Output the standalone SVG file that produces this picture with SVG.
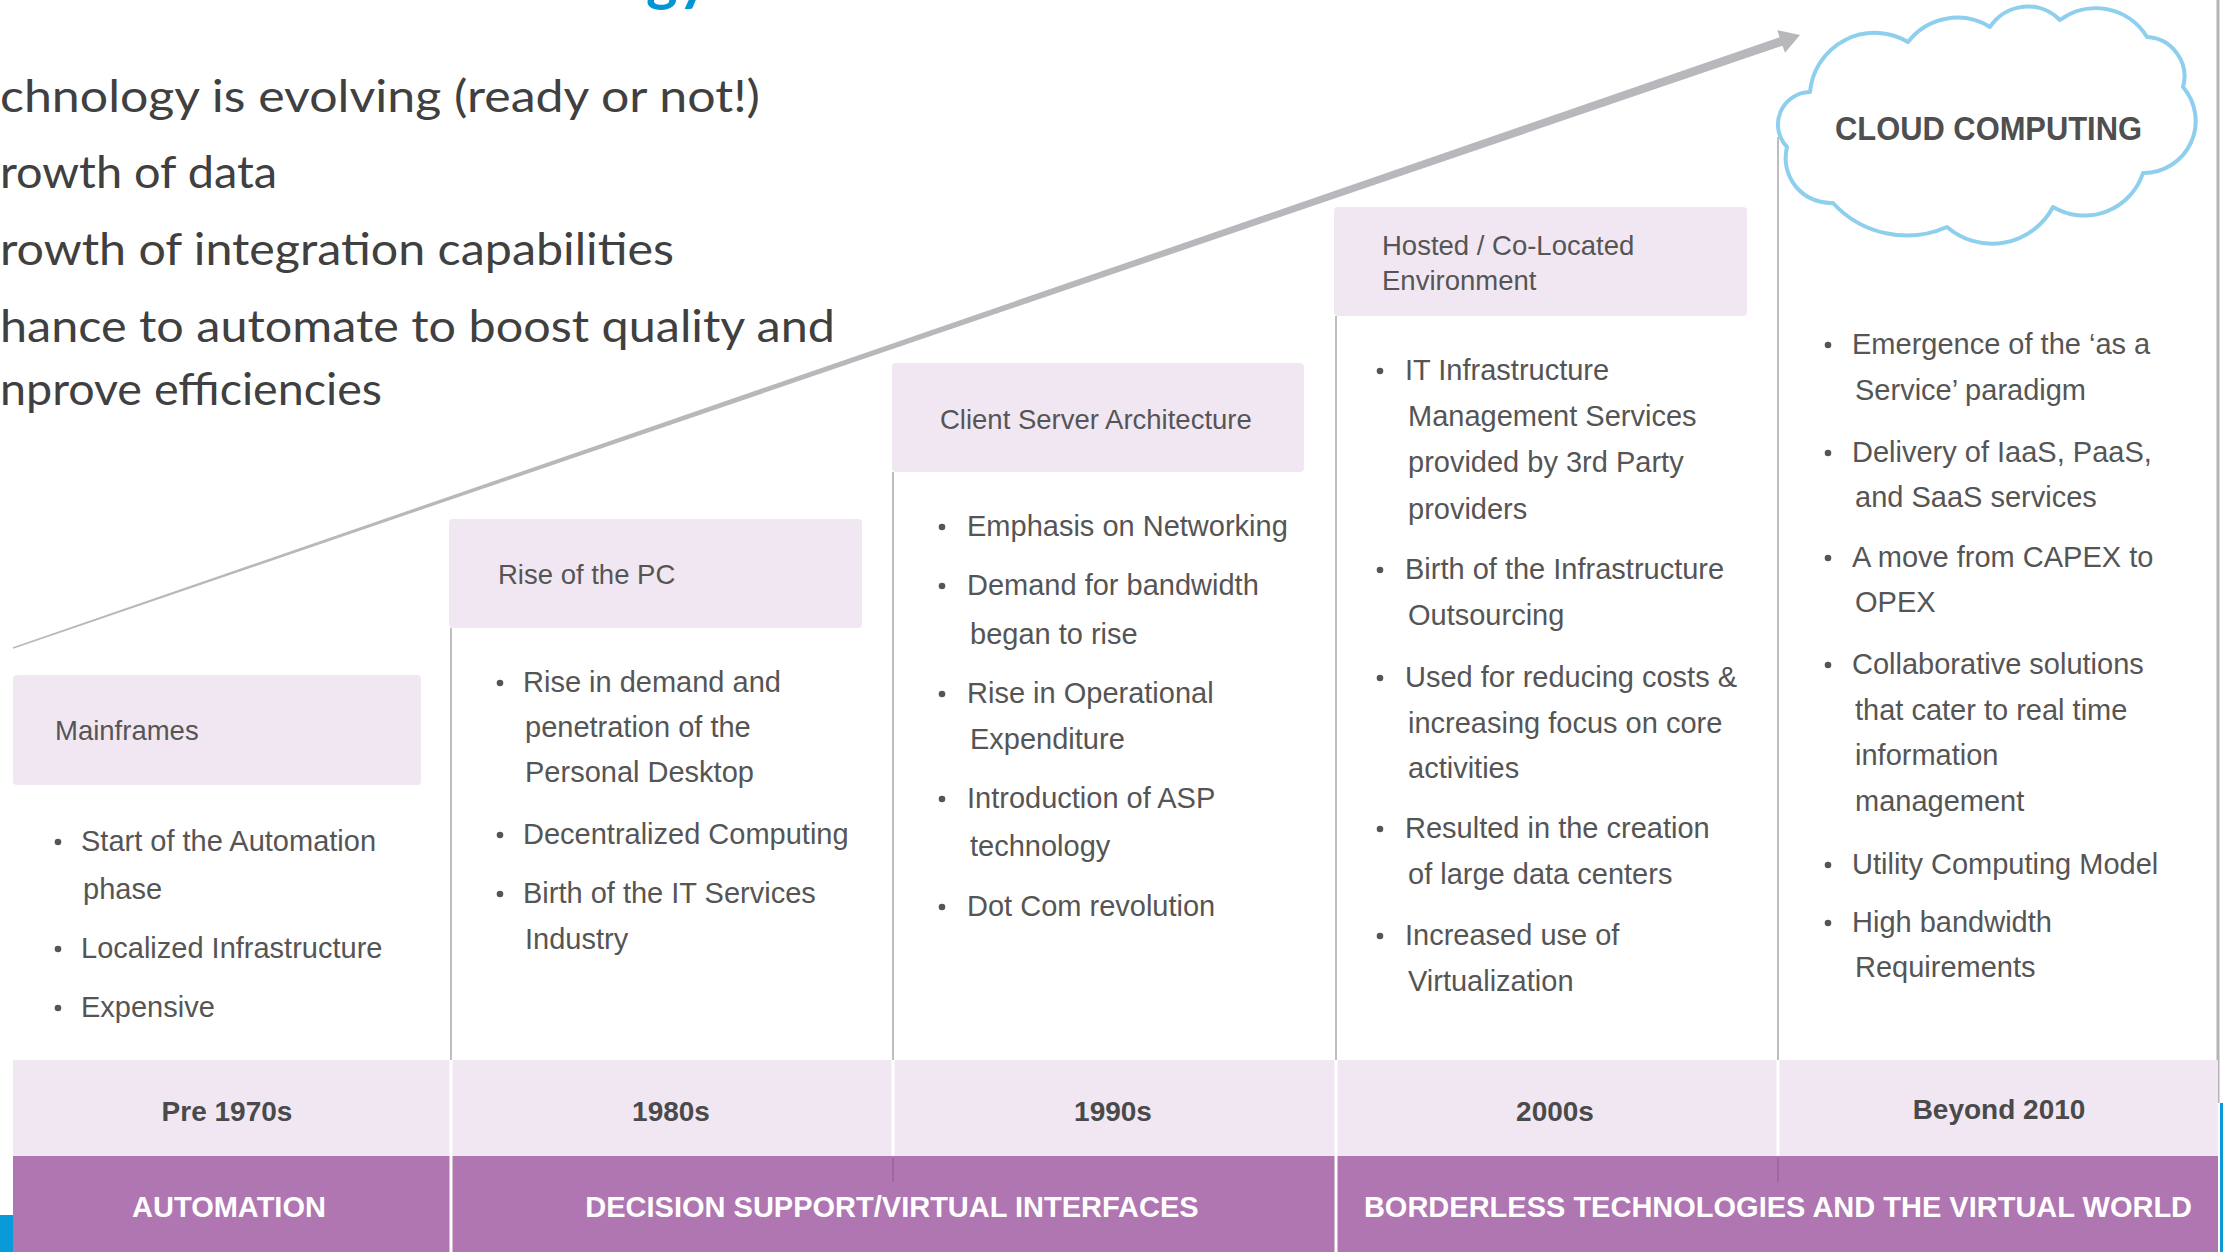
<svg xmlns="http://www.w3.org/2000/svg" width="2223" height="1252" viewBox="0 0 2223 1252">
<style>
  .lead { font-family: Lato, "Open Sans", "Liberation Sans", sans-serif; font-size: 44px; fill: #404040; }
  .hdr { font-family: "Liberation Sans", Arial, sans-serif; font-size: 27.5px; fill: #555555; }
  .bul { font-family: "Liberation Sans", Arial, sans-serif; font-size: 29px; fill: #555555; }
  .yr { font-family: "Liberation Sans", Arial, sans-serif; font-size: 28px; font-weight: bold; fill: #4a4a4a; text-anchor: middle; }
  .era { font-family: "Liberation Sans", Arial, sans-serif; font-size: 29px; font-weight: bold; fill: #ffffff; text-anchor: middle; }
  .box { fill: #F1E7F3; }
  .div { stroke: #A8A8A8; stroke-width: 1.5; fill: none; }
  .dot { fill: #555555; }
</style>
<rect x="0" y="0" width="2223" height="1252" fill="#ffffff"/>

<g id="title">
  <text x="646" y="-1" style="font-family: Lato, 'Open Sans', sans-serif; font-size: 60px; font-weight: bold; fill: #0096D6;">gy</text>
</g>

<g id="lead-text" class="lead">
  <text x="0" y="112" textLength="760" lengthAdjust="spacingAndGlyphs">chnology is evolving (ready or not!)</text>
  <text x="0" y="188" textLength="277" lengthAdjust="spacingAndGlyphs">rowth of data</text>
  <text x="0" y="265" textLength="674" lengthAdjust="spacingAndGlyphs">rowth of integration capabilities</text>
  <text x="0" y="342" textLength="835" lengthAdjust="spacingAndGlyphs">hance to automate to boost quality and</text>
  <text x="0" y="405" textLength="382" lengthAdjust="spacingAndGlyphs">nprove efficiencies</text>
</g>

<g id="dividers">
  <line class="div" x1="451" y1="628" x2="451" y2="1060"/>
  <line class="div" x1="893" y1="472" x2="893" y2="1060"/>
  <line class="div" x1="1336" y1="316" x2="1336" y2="1060"/>
  <line class="div" x1="1778" y1="137" x2="1778" y2="1060"/>
  <line x1="2218" y1="0" x2="2218" y2="1103" stroke="#B3B3B8" stroke-width="3"/>
</g>

<g id="connectors">
  <polygon points="12.74,647.24 1779.62,37.23 1777.19,30.14 1800,35 1784.97,52.84 1782.54,45.75 13.26,648.76" fill="#B8B8BC"/>
</g>

<g id="cloud">
  <path d="M1787,147 A32.5,32.5 0 0 1 1810,92 A65,65 0 0 1 1908,42 A62,62 0 0 1 1990,27 A45,45 0 0 1 2060,20 A60,60 0 0 1 2147,37 A39.5,39.5 0 0 1 2183,87 A52,52 0 0 1 2143,173 A61.6,61.6 0 0 1 2053,207 A69,69 0 0 1 1947,227 A100,100 0 0 1 1833,203 A45,45 0 0 1 1787,147 Z" fill="#ffffff" stroke="#8ECFEE" stroke-width="4" stroke-linejoin="round"/>
  <text x="1835" y="140" textLength="307" lengthAdjust="spacingAndGlyphs" style="font-family: 'Liberation Sans', Arial, sans-serif; font-size: 34px; font-weight: bold; fill: #4f4f4f;">CLOUD COMPUTING</text>
</g>

<g id="col-pre1970">
  <rect class="box" x="13" y="675" width="408" height="110" rx="4"/>
  <text class="hdr" x="55" y="740">Mainframes</text>
  <circle class="dot" cx="58" cy="842" r="3.3"/>
  <text class="bul" x="81" y="851">Start of the Automation</text>
  <text class="bul" x="83" y="899">phase</text>
  <circle class="dot" cx="58" cy="949" r="3.3"/>
  <text class="bul" x="81" y="958">Localized Infrastructure</text>
  <circle class="dot" cx="58" cy="1008" r="3.3"/>
  <text class="bul" x="81" y="1017">Expensive</text>
</g>

<g id="col-1980s">
  <rect class="box" x="449" y="519" width="413" height="109" rx="4"/>
  <text class="hdr" x="498" y="584">Rise of the PC</text>
  <circle class="dot" cx="500" cy="683" r="3.3"/>
  <text class="bul" x="523" y="692">Rise in demand and</text>
  <text class="bul" x="525" y="737">penetration of the</text>
  <text class="bul" x="525" y="782">Personal Desktop</text>
  <circle class="dot" cx="500" cy="835" r="3.3"/>
  <text class="bul" x="523" y="844">Decentralized Computing</text>
  <circle class="dot" cx="500" cy="894" r="3.3"/>
  <text class="bul" x="523" y="903">Birth of the IT Services</text>
  <text class="bul" x="525" y="949">Industry</text>
</g>

<g id="col-1990s">
  <rect class="box" x="892" y="363" width="412" height="109" rx="4"/>
  <text class="hdr" x="940" y="429">Client Server Architecture</text>
  <circle class="dot" cx="942" cy="527" r="3.3"/>
  <text class="bul" x="967" y="536">Emphasis on Networking</text>
  <circle class="dot" cx="942" cy="586" r="3.3"/>
  <text class="bul" x="967" y="595">Demand for bandwidth</text>
  <text class="bul" x="970" y="644">began to rise</text>
  <circle class="dot" cx="942" cy="694" r="3.3"/>
  <text class="bul" x="967" y="703">Rise in Operational</text>
  <text class="bul" x="970" y="749">Expenditure</text>
  <circle class="dot" cx="942" cy="799" r="3.3"/>
  <text class="bul" x="967" y="808">Introduction of ASP</text>
  <text class="bul" x="970" y="856">technology</text>
  <circle class="dot" cx="942" cy="907" r="3.3"/>
  <text class="bul" x="967" y="916">Dot Com revolution</text>
</g>

<g id="col-2000s">
  <rect class="box" x="1334" y="207" width="413" height="109" rx="4"/>
  <text class="hdr" x="1382" y="255">Hosted / Co-Located</text>
  <text class="hdr" x="1382" y="290">Environment</text>
  <circle class="dot" cx="1380" cy="371" r="3.3"/>
  <text class="bul" x="1405" y="380">IT Infrastructure</text>
  <text class="bul" x="1408" y="426">Management Services</text>
  <text class="bul" x="1408" y="472">provided by 3rd Party</text>
  <text class="bul" x="1408" y="519">providers</text>
  <circle class="dot" cx="1380" cy="570" r="3.3"/>
  <text class="bul" x="1405" y="579">Birth of the Infrastructure</text>
  <text class="bul" x="1408" y="625">Outsourcing</text>
  <circle class="dot" cx="1380" cy="678" r="3.3"/>
  <text class="bul" x="1405" y="687">Used for reducing costs &amp;</text>
  <text class="bul" x="1408" y="733">increasing focus on core</text>
  <text class="bul" x="1408" y="778">activities</text>
  <circle class="dot" cx="1380" cy="829" r="3.3"/>
  <text class="bul" x="1405" y="838">Resulted in the creation</text>
  <text class="bul" x="1408" y="884">of large data centers</text>
  <circle class="dot" cx="1380" cy="936" r="3.3"/>
  <text class="bul" x="1405" y="945">Increased use of</text>
  <text class="bul" x="1408" y="991">Virtualization</text>
</g>

<g id="col-beyond2010">
  <circle class="dot" cx="1828" cy="345" r="3.3"/>
  <text class="bul" x="1852" y="354">Emergence of the ‘as a</text>
  <text class="bul" x="1855" y="400">Service’ paradigm</text>
  <circle class="dot" cx="1828" cy="453" r="3.3"/>
  <text class="bul" x="1852" y="462">Delivery of IaaS, PaaS,</text>
  <text class="bul" x="1855" y="507">and SaaS services</text>
  <circle class="dot" cx="1828" cy="558" r="3.3"/>
  <text class="bul" x="1852" y="567">A move from CAPEX to</text>
  <text class="bul" x="1855" y="612">OPEX</text>
  <circle class="dot" cx="1828" cy="665" r="3.3"/>
  <text class="bul" x="1852" y="674">Collaborative solutions</text>
  <text class="bul" x="1855" y="720">that cater to real time</text>
  <text class="bul" x="1855" y="765">information</text>
  <text class="bul" x="1855" y="811">management</text>
  <circle class="dot" cx="1828" cy="865" r="3.3"/>
  <text class="bul" x="1852" y="874">Utility Computing Model</text>
  <circle class="dot" cx="1828" cy="923" r="3.3"/>
  <text class="bul" x="1852" y="932">High bandwidth</text>
  <text class="bul" x="1855" y="977">Requirements</text>
</g>

<g id="year-band">
  <rect x="13" y="1060" width="2205" height="96" fill="#F1E7F3"/>
  <g stroke="#ffffff" stroke-width="3">
    <line x1="451" y1="1060" x2="451" y2="1156"/>
    <line x1="893" y1="1060" x2="893" y2="1158"/>
    <line x1="1336" y1="1060" x2="1336" y2="1156"/>
    <line x1="1778" y1="1060" x2="1778" y2="1158"/>
  </g>
  <text class="yr" x="227" y="1121">Pre 1970s</text>
  <text class="yr" x="671" y="1121">1980s</text>
  <text class="yr" x="1113" y="1121">1990s</text>
  <text class="yr" x="1555" y="1121">2000s</text>
  <text class="yr" x="1999" y="1119">Beyond 2010</text>
</g>

<g id="era-band">
  <rect x="13" y="1156" width="2205" height="96" fill="#AF76B2"/>
  <g stroke="#ffffff" stroke-width="3">
    <line x1="451" y1="1156" x2="451" y2="1252"/>
    <line x1="1336" y1="1156" x2="1336" y2="1252"/>
  </g>
  <g stroke="#9C62A0" stroke-width="1.5">
    <line x1="893" y1="1158" x2="893" y2="1182"/>
    <line x1="1778" y1="1158" x2="1778" y2="1182"/>
  </g>
  <text class="era" x="229" y="1217">AUTOMATION</text>
  <text class="era" x="892" y="1217">DECISION SUPPORT/VIRTUAL INTERFACES</text>
  <text class="era" x="1778" y="1217">BORDERLESS TECHNOLOGIES AND THE VIRTUAL WORLD</text>
</g>

<g id="slide-edges">
  <rect x="0" y="1215" width="13" height="37" fill="#0B9AD8"/>
  <rect x="2220" y="1103" width="3" height="149" fill="#0B9AD8"/>
</g>
</svg>
